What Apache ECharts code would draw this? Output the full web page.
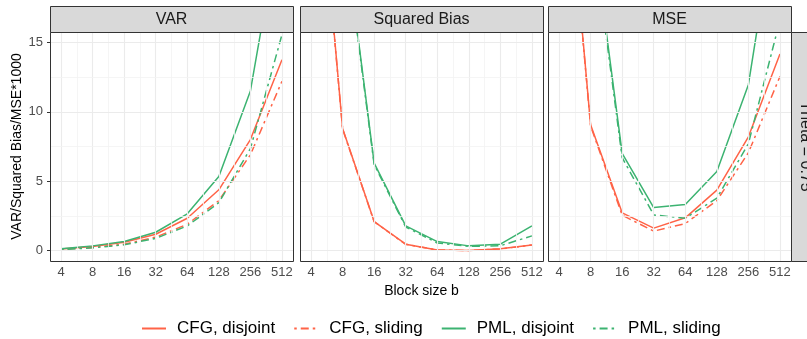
<!DOCTYPE html>
<html>
<head>
<meta charset="utf-8">
<script src="https://cdn.jsdelivr.net/npm/echarts@6/dist/echarts.min.js"></script>
<style>
  html, body { margin: 0; padding: 0; background: #fff; }
  #main { width: 807px; height: 339px; }
</style>
</head>
<body>
<div id="main"></div>
<script>
// block sizes on a log2 axis
const blockSizes = [4, 8, 16, 32, 64, 128, 256, 512]
const yTicks = [0, 5, 10, 15]
const yMinor = [2.5, 7.5, 12.5]

// VAR (*1000)
const cfgDisjVar = [0.12, 0.30, 0.60, 1.18, 2.33, 4.38, 8.0, 13.75]
const cfgSlidVar = [0.08, 0.22, 0.46, 0.97, 1.90, 3.60, 6.9, 12.2]
const pmlDisjVar = [0.13, 0.34, 0.65, 1.32, 2.65, 5.34, 11.5, 24.5]
const pmlSlidVar = [0.07, 0.20, 0.42, 0.88, 1.78, 3.45, 7.35, 15.55]

// Squared bias (*1000)
const cfgDisjBias = [34.5, 8.8, 2.09, 0.46, 0.05, 0.0, 0.14, 0.41]
const cfgSlidBias = [34.3, 8.75, 2.08, 0.45, 0.05, 0.0, 0.12, 0.40]
const pmlDisjBias = [60.0, 24.1, 6.3, 1.78, 0.65, 0.34, 0.46, 1.78]
const pmlSlidBias = [59.0, 23.8, 6.2, 1.70, 0.55, 0.30, 0.35, 1.06]

// MSE (*1000)
const cfgDisjMse = [34.6, 9.06, 2.72, 1.62, 2.36, 4.36, 8.2, 14.16]
const cfgSlidMse = [34.4, 8.98, 2.55, 1.40, 1.95, 3.60, 7.05, 12.55]
const pmlDisjMse = [60.1, 24.4, 7.0, 3.10, 3.32, 5.70, 11.95, 26.3]
const pmlSlidMse = [59.1, 24.0, 6.7, 2.57, 2.33, 3.78, 7.70, 16.6]

const methods = ['CFG, disjoint', 'CFG, sliding', 'PML, disjoint', 'PML, sliding']
const panelTitles = ['VAR', 'Squared Bias', 'MSE']
const panelData = [
  [cfgDisjVar, cfgSlidVar, pmlDisjVar, pmlSlidVar],
  [cfgDisjBias, cfgSlidBias, pmlDisjBias, pmlSlidBias],
  [cfgDisjMse, cfgSlidMse, pmlDisjMse, pmlSlidMse],
]

const RED = '#FF6347'
const GREEN = '#3CB371'
const colors = [RED, RED, GREEN, GREEN]
const dashed = [false, true, false, true]
const DOTDASH = [2.5, 4, 8, 4]
const FONT = '"Liberation Sans", Arial, sans-serif'

const xTicks = blockSizes.map((b) => Math.log2(b))
const xMinor = xTicks.slice(1).map((v) => v - 0.5)

const lefts = [50, 300, 548]
const W = 243
const TOP = 32
const H = 229

var chartDom = document.getElementById('main')
var myChart = echarts.init(chartDom)

const grids = []
const xAxes = []
const yAxes = []
const series = []
const graphics = []

lefts.forEach((left, gi) => {
  grids.push({ left: left, top: TOP, width: W, height: H, show: false })

  xAxes.push({
    type: 'value',
    gridIndex: gi,
    min: 1.65,
    max: 9.35,
    splitLine: { show: false },
    axisLine: { show: false },
    axisTick: { show: true, customValues: xTicks, length: 3, lineStyle: { color: '#333' } },
    axisLabel: {
      customValues: xTicks,
      formatter: (v) => String(Math.round(Math.pow(2, v))),
      color: '#4D4D4D',
      fontSize: 13,
      fontFamily: FONT,
      margin: 5,
    },
    name: gi === 1 ? 'Block size b' : '',
    nameLocation: 'middle',
    nameGap: 22,
    nameTextStyle: { color: '#000', fontSize: 14, fontFamily: FONT },
  })

  yAxes.push({
    type: 'value',
    gridIndex: gi,
    min: -0.75,
    max: 15.75,
    splitLine: { show: false },
    axisLine: { show: false },
    axisTick: { show: gi === 0, customValues: yTicks, length: 3, lineStyle: { color: '#333' } },
    axisLabel: {
      show: gi === 0,
      customValues: yTicks,
      color: '#4D4D4D',
      fontSize: 13,
      fontFamily: FONT,
      margin: 7,
    },
    name: gi === 0 ? 'VAR/Squared Bias/MSE*1000' : '',
    nameLocation: 'middle',
    nameGap: 26,
    nameTextStyle: { color: '#000', fontSize: 14, fontFamily: FONT },
  })

  // background grid lines
  const gl = []
  xTicks.forEach((v) => gl.push({ xAxis: v, lineStyle: { color: '#EBEBEB', width: 1.1, type: 'solid' } }))
  xMinor.forEach((v) => gl.push({ xAxis: v, lineStyle: { color: '#F2F2F2', width: 0.8, type: 'solid' } }))
  yTicks.forEach((v) => gl.push({ yAxis: v, lineStyle: { color: '#EBEBEB', width: 1.1, type: 'solid' } }))
  yMinor.forEach((v) => gl.push({ yAxis: v, lineStyle: { color: '#F2F2F2', width: 0.8, type: 'solid' } }))
  series.push({
    name: 'grid' + gi,
    type: 'line',
    xAxisIndex: gi,
    yAxisIndex: gi,
    data: [],
    silent: true,
    z: 1,
    markLine: { silent: true, symbol: ['none', 'none'], label: { show: false }, animation: false, data: gl },
  })

  panelData[gi].forEach((values, k) => {
    series.push({
      name: methods[k],
      type: 'line',
      xAxisIndex: gi,
      yAxisIndex: gi,
      data: blockSizes.map((b, i) => [Math.log2(b), values[i]]),
      symbol: 'none',
      clip: true,
      z: 3,
      animation: false,
      lineStyle: { color: colors[k], width: 1.5, type: dashed[k] ? DOTDASH : 'solid' },
      itemStyle: { color: colors[k] },
    })
  })

  // panel border
  graphics.push({
    type: 'rect',
    shape: { x: left + 0.5, y: TOP + 0.5, width: W, height: H },
    style: { fill: 'none', stroke: '#333', lineWidth: 1 },
    z: 100,
  })
  // top strip
  graphics.push({
    type: 'rect',
    shape: { x: left + 0.5, y: 6.5, width: W, height: 26 },
    style: { fill: '#D9D9D9', stroke: '#333', lineWidth: 1 },
    z: 100,
  })
  graphics.push({
    type: 'text',
    x: left + W / 2,
    y: 19.5,
    style: { text: panelTitles[gi], fill: '#1A1A1A', font: '16px ' + FONT, align: 'center', verticalAlign: 'middle' },
    z: 101,
  })
})

// right strip
graphics.push({
  type: 'rect',
  shape: { x: 791.5, y: TOP + 0.5, width: 27, height: H },
  style: { fill: '#D9D9D9', stroke: '#333', lineWidth: 1 },
  z: 100,
})
graphics.push({
  type: 'text',
  x: 805,
  y: TOP + H / 2,
  rotation: -Math.PI / 2,
  style: { text: 'Theta = 0.75', fill: '#1A1A1A', font: '16px ' + FONT, align: 'center', verticalAlign: 'middle' },
  z: 101,
})

var option = {
  backgroundColor: '#fff',
  animation: false,
  legend: {
    data: methods,
    top: 315,
    left: 136,
    itemWidth: 24,
    itemHeight: 10,
    itemGap: 18,
    itemStyle: { opacity: 0 },
    textStyle: { color: '#000', fontSize: 17, fontFamily: FONT, padding: [0, 0, 0, 6] },
  },
  grid: grids,
  xAxis: xAxes,
  yAxis: yAxes,
  series: series,
  graphic: graphics,
}

option && myChart.setOption(option)
</script>
</body>
</html>
